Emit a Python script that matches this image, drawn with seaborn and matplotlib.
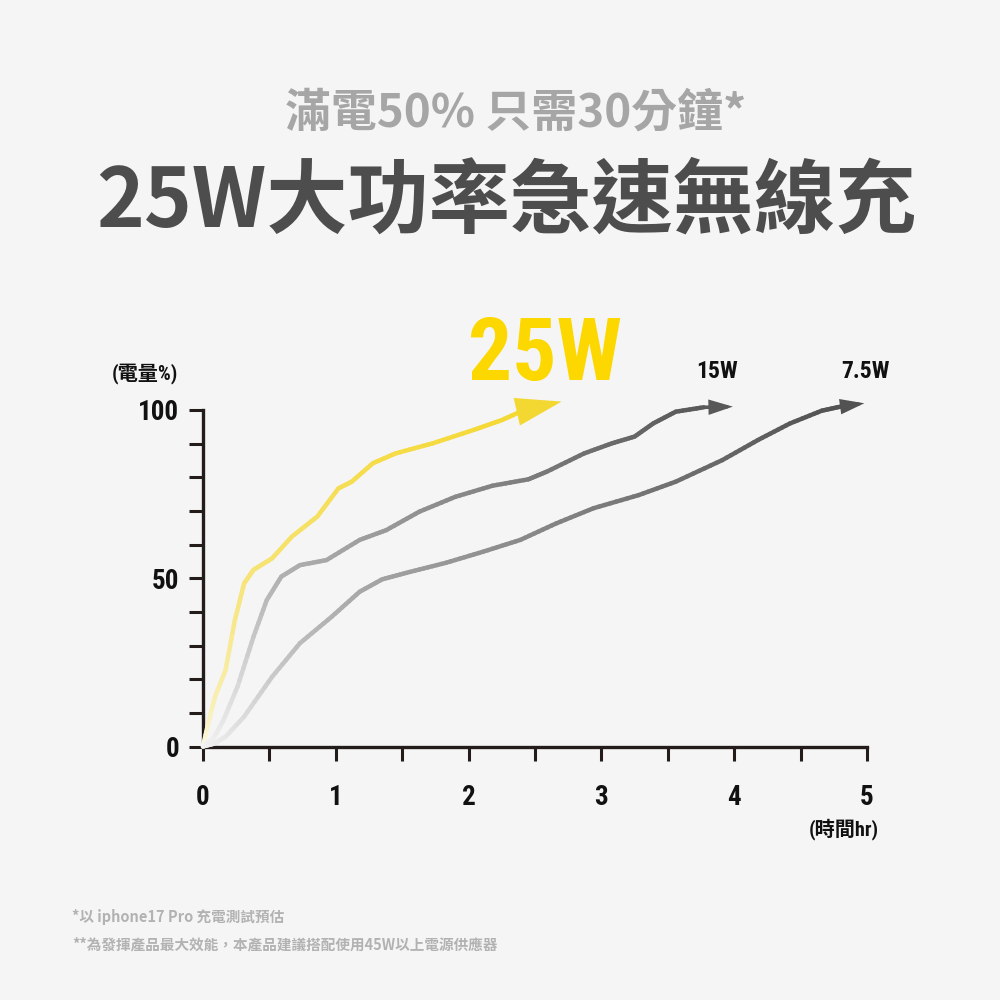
import numpy as np
import pandas as pd
import matplotlib
matplotlib.use("Agg")
import matplotlib.pyplot as plt
import seaborn as sns
from matplotlib.collections import LineCollection
from matplotlib.colors import to_rgb

# ---------------- data ----------------
hours_25w = [0, 0.04, 0.09, 0.17, 0.24, 0.31, 0.38, 0.52, 0.67, 0.86, 1.02, 1.12, 1.28, 1.45, 1.73, 2.04, 2.25, 2.42]
pct_25w = [0, 7, 14.8, 22.7, 37.6, 48.5, 52.5, 55.9, 62.4, 68.3, 76.7, 78.7, 84.2, 87.1, 90.1, 94.1, 97.0, 100]
tip_25w = (2.70, 102.5)

hours_15w = [0, 0.08, 0.155, 0.26, 0.38, 0.48, 0.59, 0.73, 0.93, 1.18, 1.38, 1.63, 1.90, 2.18, 2.45, 2.59, 2.87, 3.08, 3.25, 3.39, 3.56, 3.77]
pct_15w = [0, 2.5, 7.9, 17.8, 32.6, 43.5, 50.5, 53.9, 55.4, 61.4, 64.3, 69.8, 74.2, 77.5, 79.4, 81.7, 87.1, 90.1, 92.1, 96.0, 99.5, 100.8]
tip_15w = (3.99, 101.0)

hours_7w = [0, 0.08, 0.17, 0.31, 0.52, 0.73, 0.97, 1.18, 1.35, 1.56, 1.83, 2.11, 2.39, 2.66, 2.94, 3.28, 3.56, 3.91, 4.18, 4.42, 4.66, 4.80]
pct_7w = [0, 0.8, 2.9, 8.9, 20.7, 30.7, 38.6, 46.0, 49.7, 51.9, 54.6, 57.9, 61.4, 66.3, 70.8, 74.7, 78.7, 85.1, 91.1, 96.0, 99.8, 101.0]
tip_7w = (4.98, 102.0)

series_names = ["25W", "15W", "7.5W"]
x_ticks = [0, 0.5, 1, 1.5, 2, 2.5, 3, 3.5, 4, 4.5, 5]
x_labels = ["0", "", "1", "", "2", "", "3", "", "4", "", "5"]
y_ticks = [0, 10, 20, 30, 40, 50, 60, 70, 80, 90, 100]
y_labels = ["0", "", "", "", "", "50", "", "", "", "", "100"]

title_top = "滿電50% 只需30分鐘*"
title_main = "25W大功率急速無線充"
y_unit = "(電量%)"
x_unit = "(時間hr)"
note_1 = "*以 iphone17 Pro 充電測試預估"
note_2 = "**為發揮產品最大效能，本產品建議搭配使用45W以上電源供應器"

# ---------------- style ----------------
BG = "#f5f5f5"
AXC = "#231c1a"
sns.set_theme(style="ticks")
plt.rcParams["font.family"] = ["Noto Sans CJK TC", "DejaVu Sans"]
NARROW = ["Liberation Sans Narrow", "Roboto Condensed", "Liberation Sans", "Noto Sans CJK TC", "DejaVu Sans"]

fig = plt.figure(figsize=(10, 10), dpi=100, facecolor=BG)
ax = fig.add_axes([0.203, 0.2535, 0.664, 0.3365], facecolor=BG)

df = pd.concat([
    pd.DataFrame({"hr": hours_25w, "pct": pct_25w, "s": "25W"}),
    pd.DataFrame({"hr": hours_15w, "pct": pct_15w, "s": "15W"}),
    pd.DataFrame({"hr": hours_7w, "pct": pct_7w, "s": "7.5W"}),
])

end_cols = {"25W": "#f4d832", "15W": "#585858", "7.5W": "#525252"}
start_cols = {"25W": "#fbf9ee", "15W": "#f3f3f3", "7.5W": "#f3f3f3"}
gammas = {"25W": 0.55, "15W": 0.9, "7.5W": 0.75}
tips = {"25W": tip_25w, "15W": tip_15w, "7.5W": tip_7w}
LW = 3.2

for name in series_names:
    sub = df[df["s"] == name]
    sns.lineplot(data=sub, x="hr", y="pct", ax=ax, color=end_cols[name], lw=LW, sort=False, estimator=None)
    line = ax.lines[-1]
    xy = np.column_stack(line.get_data())
    line.remove()
    # gradient along path (rendering only: split each segment for colour steps)
    pts = []
    for i in range(len(xy) - 1):
        for t in np.linspace(0, 1, 8, endpoint=False):
            pts.append(xy[i] * (1 - t) + xy[i + 1] * t)
    pts.append(xy[-1])
    pts = np.array(pts)
    segs = np.stack([pts[:-1], pts[1:]], axis=1)
    d = np.r_[0, np.cumsum(np.hypot(np.diff(pts[:, 0]) * 20, np.diff(pts[:, 1])))]
    f = (d[:-1] / d[-1]) ** gammas[name]
    c0, c1 = np.array(to_rgb(start_cols[name])), np.array(to_rgb(end_cols[name]))
    cols = c0[None, :] * (1 - f[:, None]) + c1[None, :] * f[:, None]
    lc = LineCollection(segs, colors=cols, linewidths=LW, capstyle="round", joinstyle="round", clip_on=False, zorder=3)
    ax.add_collection(lc)
    if name == "25W":
        style = "-|>,head_length=2.6,head_width=0.8"
    else:
        style = "-|>,head_length=1.2,head_width=0.38"
    ax.annotate("", xy=tips[name], xytext=tuple(xy[-1]),
                arrowprops=dict(arrowstyle=style, color=end_cols[name], lw=LW if name == "25W" else 2.6,
                                shrinkA=0, shrinkB=0, mutation_scale=10, joinstyle="miter"),
                annotation_clip=False, zorder=4)

ax.set_xlim(0, 5)
ax.set_ylim(0, 100)
ax.set_xlabel("")
ax.set_ylabel("")
ax.set_xticks(x_ticks)
ax.set_xticklabels(x_labels)
ax.set_yticks(y_ticks)
ax.set_yticklabels(y_labels)
for sp in ["top", "right"]:
    ax.spines[sp].set_visible(False)
for sp in ["left", "bottom"]:
    ax.spines[sp].set_color(AXC)
    ax.spines[sp].set_linewidth(2.4)
ax.tick_params(axis="both", direction="out", length=10, width=2.2, color=AXC, labelcolor="#111111")
ax.tick_params(axis="x", pad=17)
ax.tick_params(axis="y", pad=7)
for lab in ax.get_xticklabels() + ax.get_yticklabels():
    lab.set_family(NARROW)
    lab.set_fontsize(19.5)
    lab.set_fontweight("bold")

# ---------------- texts ----------------
fig.text(0.516, 0.886, title_top, ha="center", va="center", fontsize=33, fontweight="bold", color="#a6a6a6")
fig.text(0.506, 0.797, title_main, ha="center", va="center", fontsize=58.5, fontweight="bold", color="#4d4d4d")

fig.text(0.545, 0.644, "25W", ha="center", va="center", fontsize=63, fontweight="bold", color="#fcd800", family=NARROW)
fig.text(0.717, 0.629, "15W", ha="center", va="center", fontsize=17, fontweight="bold", color="#111111", family=NARROW)
fig.text(0.866, 0.629, "7.5W", ha="center", va="center", fontsize=17, fontweight="bold", color="#111111", family=NARROW)

fig.text(0.145, 0.626, y_unit, ha="center", va="center", fontsize=14.5, fontweight="bold", color="#111111", family=NARROW)
fig.text(0.879, 0.171, x_unit, ha="right", va="center", fontsize=14.5, fontweight="bold", color="#111111", family=NARROW)

fig.text(0.072, 0.083, note_1, ha="left", va="center", fontsize=10.5, fontweight="bold", color="#b2b2b2")
fig.text(0.072, 0.056, note_2, ha="left", va="center", fontsize=10.5, fontweight="bold", color="#b2b2b2")

fig.savefig("out.png", dpi=100, facecolor=BG)
